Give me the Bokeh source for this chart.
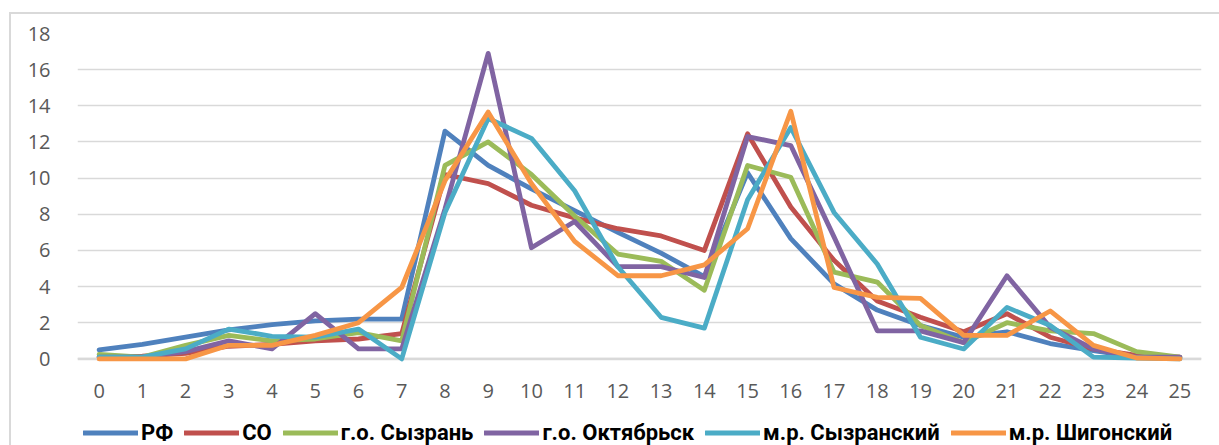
from bokeh.plotting import figure
from bokeh.layouts import column
from bokeh.models import Range1d, FixedTicker, Legend, LegendItem, Span
from bokeh.embed import file_html
from bokeh.resources import INLINE

hours = list(range(26))
series_names = ["РФ", "СО", "г.о. Сызрань", "г.о. Октябрьск", "м.р. Сызранский", "м.р. Шигонский"]
rf = [0.5, 0.8, 1.2, 1.6, 1.9, 2.1, 2.2, 2.2, 12.6, 10.7, 9.4, 8.2, 7.0, 5.85, 4.55, 10.3, 6.65, 4.15, 2.7, 1.85, 1.2, 1.5, 0.85, 0.45, 0.1, 0.05]
co = [0.1, 0.15, 0.3, 0.7, 0.8, 1.0, 1.1, 1.4, 10.2, 9.7, 8.5, 7.8, 7.2, 6.8, 6.0, 12.45, 8.4, 5.45, 3.2, 2.3, 1.5, 2.5, 1.2, 0.55, 0.2, 0.1]
syzran = [0.25, 0.1, 0.75, 1.3, 1.0, 1.1, 1.45, 1.0, 10.7, 12.0, 10.2, 7.9, 5.8, 5.4, 3.8, 10.7, 10.05, 4.8, 4.25, 1.85, 0.9, 2.0, 1.55, 1.4, 0.4, 0.1]
oktyabrsk = [0.1, 0.1, 0.4, 1.0, 0.55, 2.5, 0.55, 0.55, 8.3, 16.9, 6.15, 7.6, 5.1, 5.1, 4.5, 12.3, 11.8, 6.75, 1.55, 1.55, 0.9, 4.6, 1.75, 0.55, 0.1, 0.1]
syzranskiy = [0.1, 0.1, 0.55, 1.65, 1.25, 1.2, 1.65, 0.0, 8.1, 13.3, 12.2, 9.3, 5.1, 2.3, 1.7, 8.8, 12.8, 8.1, 5.25, 1.2, 0.55, 2.85, 1.85, 0.1, 0.05, 0.0]
shigonskiy = [0.0, 0.0, 0.0, 0.75, 0.75, 1.3, 2.0, 3.95, 9.85, 13.65, 9.7, 6.5, 4.6, 4.6, 5.2, 7.2, 13.7, 3.95, 3.4, 3.35, 1.3, 1.3, 2.65, 0.75, 0.05, 0.0]
colors = ["#4F81BD", "#C0504D", "#9BBB59", "#8064A2", "#4BACC6", "#F79646"]
y_ticks = list(range(0, 19, 2))

W, H1, H2 = 1219, 408, 37
GRID = "#d9d9d9"

p = figure(width=W, height=H1, output_backend="svg", toolbar_location=None,
           x_range=Range1d(-0.5, 25.5), y_range=Range1d(-0.2, 18),
           min_border_left=77, min_border_right=18, min_border_top=33, min_border_bottom=46)
p.outline_line_color = None
p.background_fill_color = "white"
p.border_fill_alpha = 0
p.styles = {
    "background": f"linear-gradient({GRID}, {GRID}) 9px 12px / 2px 100% no-repeat, "
                  f"linear-gradient({GRID}, {GRID}) 9px 12px / 100% 2px no-repeat, white"
}

p.xaxis.ticker = FixedTicker(ticks=hours)
p.yaxis.ticker = FixedTicker(ticks=y_ticks)
for ax in (p.xaxis[0], p.yaxis[0]):
    ax.axis_line_color = None
    ax.major_tick_line_color = None
    ax.minor_tick_line_color = None
    ax.major_label_text_font = "Open Sans"
    ax.major_label_text_font_size = "20px"
    ax.major_label_text_color = "#595959"
p.yaxis.major_label_standoff = 21
p.xaxis.major_label_standoff = 15
p.xgrid.grid_line_color = None
p.ygrid.grid_line_color = GRID
p.ygrid.grid_line_width = 1.5
p.ygrid.ticker = FixedTicker(ticks=y_ticks)

p.add_layout(Span(location=0, dimension="width", line_color=GRID, line_width=2.5, level="underlay"))

data = [rf, co, syzran, oktyabrsk, syzranskiy, shigonskiy]
for name, vals, c in zip(series_names, data, colors):
    p.line(hours, vals, line_color=c, line_width=4.8, line_join="round", line_cap="round")

# legend strip (same series, y range chosen so the lines themselves stay out of view)
pl = figure(width=W, height=H2, output_backend="svg", toolbar_location=None,
            x_axis_location=None, y_axis_location=None,
            x_range=Range1d(-0.5, 25.5), y_range=Range1d(100, 101), min_border=0)
pl.outline_line_color = None
pl.xgrid.grid_line_color = None
pl.ygrid.grid_line_color = None
pl.background_fill_alpha = 0
pl.border_fill_alpha = 0
pl.styles = {"background": f"linear-gradient({GRID}, {GRID}) 9px 0px / 2px 100% no-repeat, white"}

items = []
for name, vals, c in zip(series_names, data, colors):
    r = pl.line(hours, vals, line_color=c, line_width=4.8, line_cap="round")
    items.append(LegendItem(label=name, renderers=[r]))

legend = Legend(items=items, orientation="horizontal", location=(6, 0),
                glyph_width=55, glyph_height=15, label_standoff=3, spacing=11,
                padding=0, margin=0, border_line_color=None, background_fill_alpha=0,
                label_text_font="Roboto", label_text_font_style="bold",
                label_text_font_size="22px", label_text_color="black")
pl.add_layout(legend, "center")

layout = column(p, pl, spacing=0)
open("out.html", "w").write(file_html(layout, INLINE))
